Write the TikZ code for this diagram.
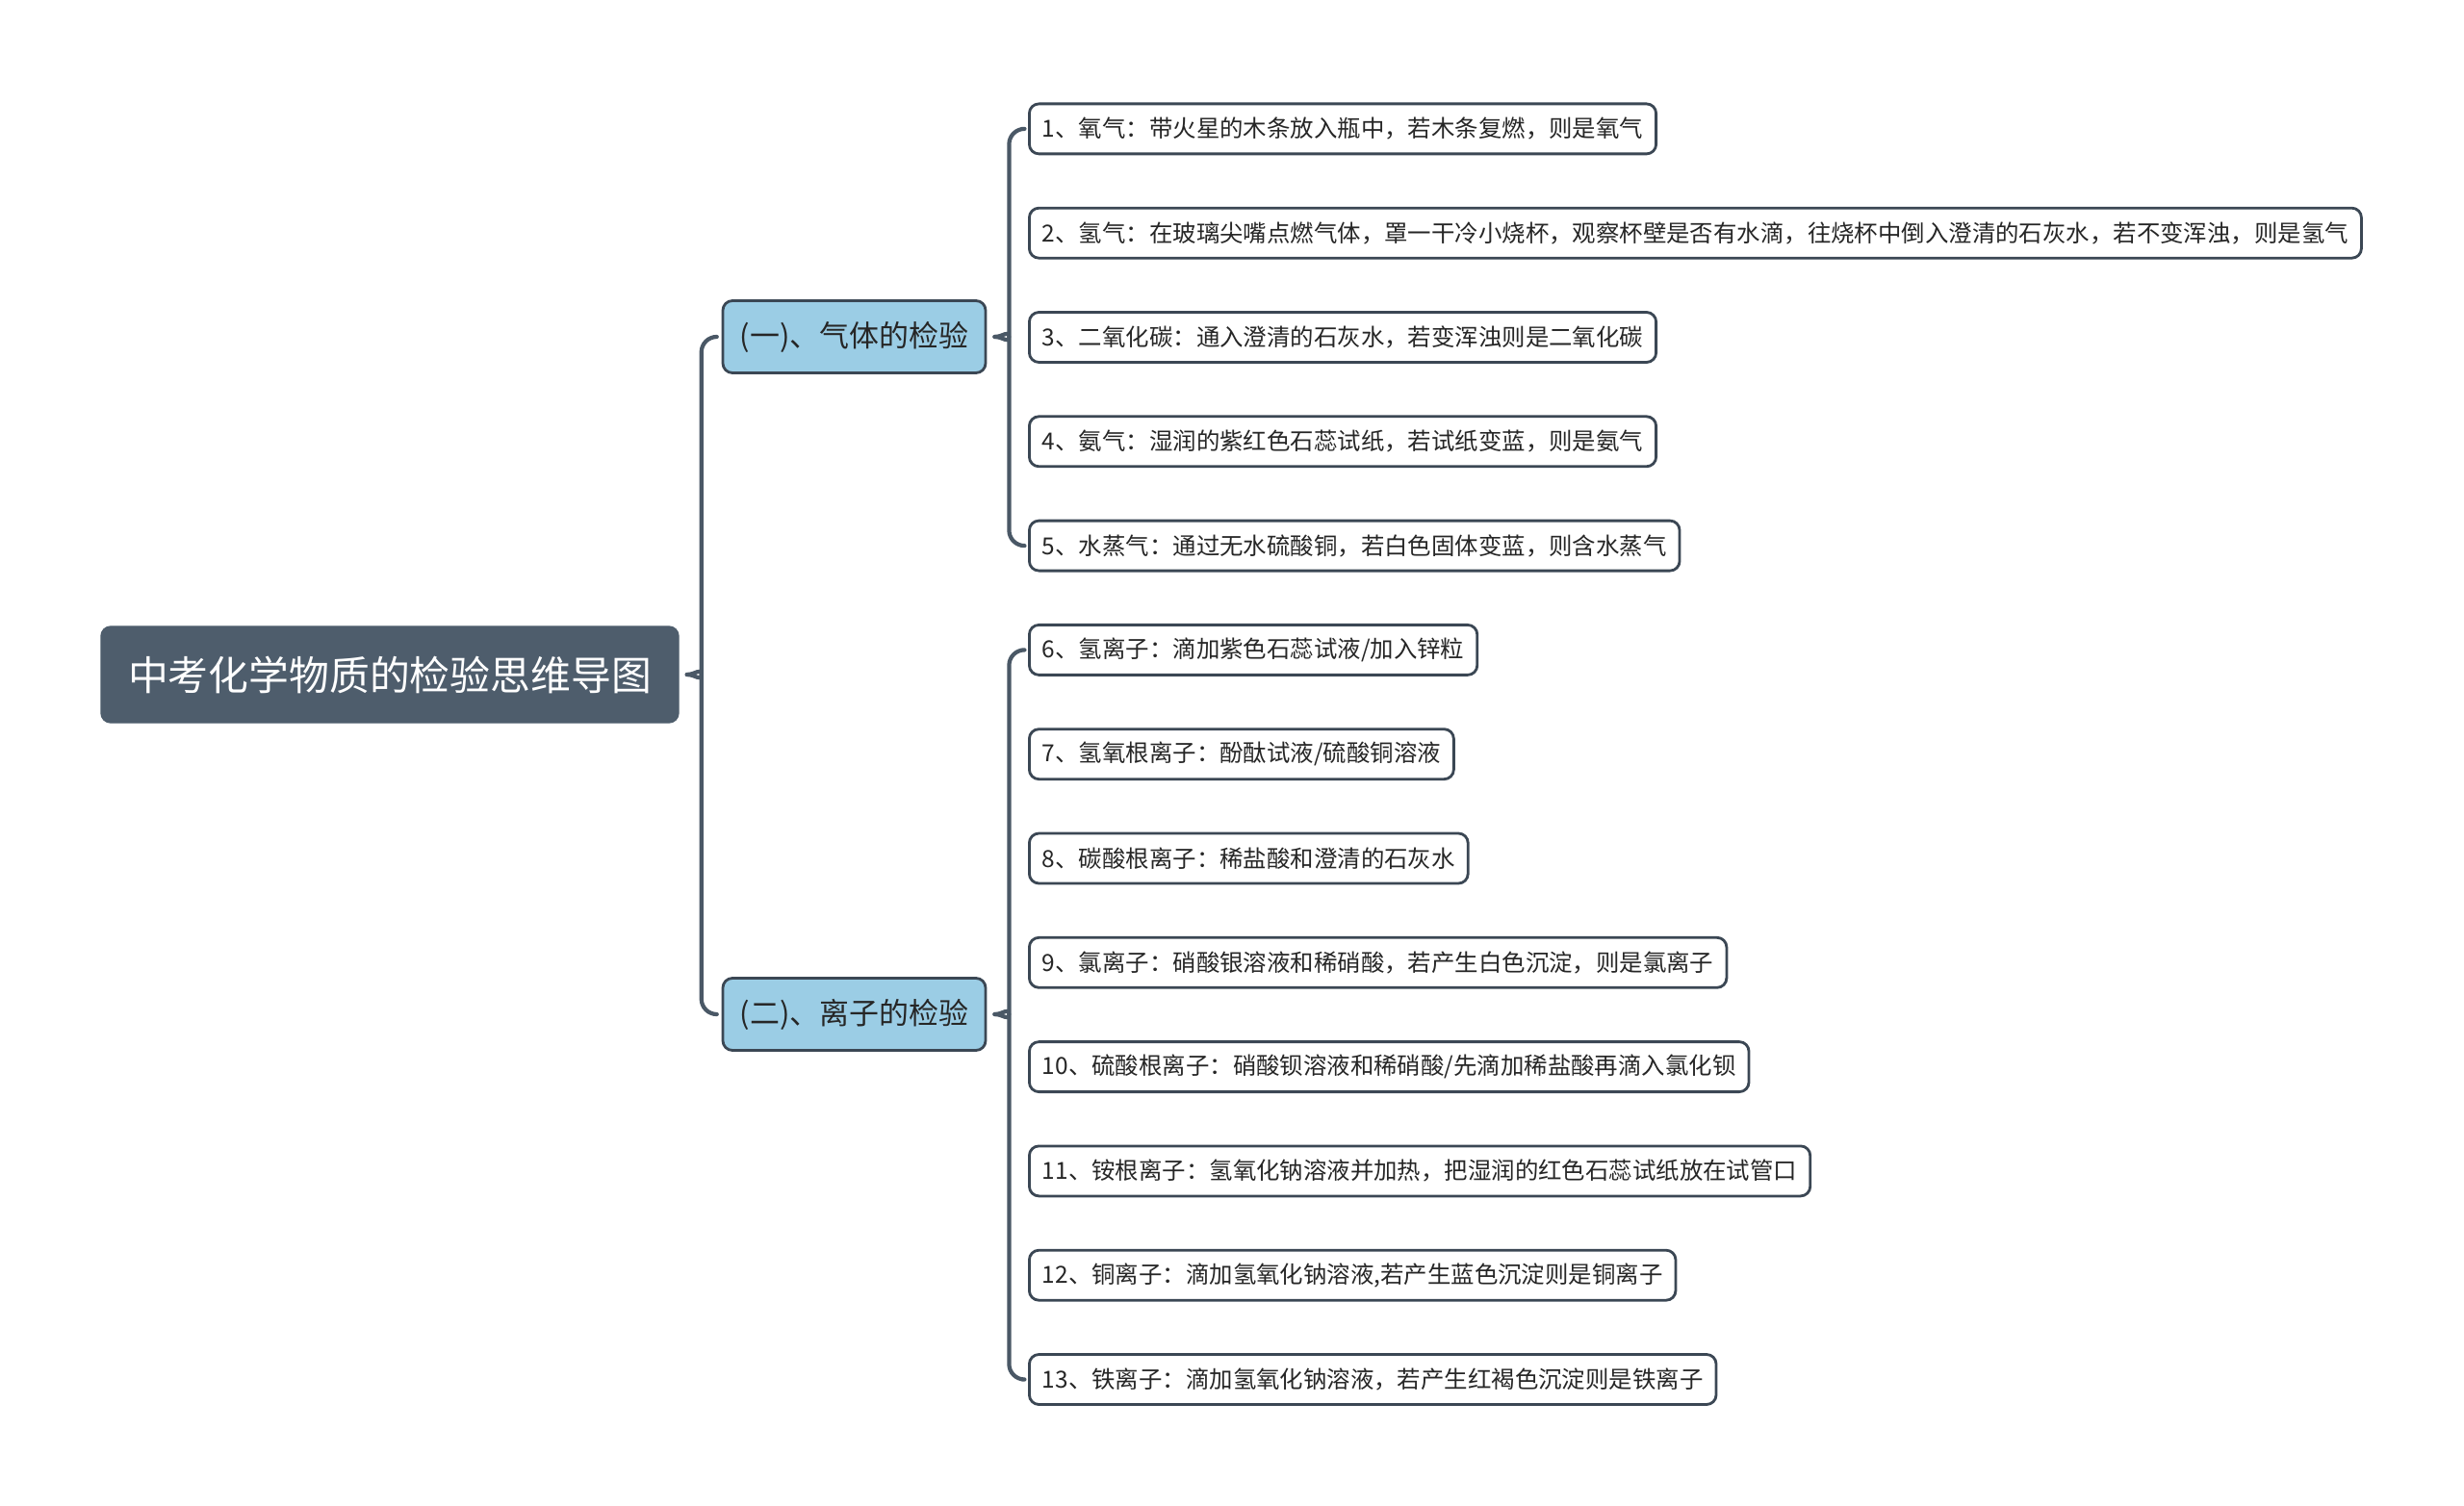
\documentclass[tikz,border=0pt]{standalone}
\usepackage{fontspec}
\setmainfont{Noto Sans CJK SC}
\usepackage{tikz}
\usepackage{xcolor}
\usetikzlibrary{arrows.meta,calc,positioning}
\definecolor{mindslate}{HTML}{4E5D6C}
\definecolor{mindline}{HTML}{4A5866}
\definecolor{mindblue}{HTML}{9BCDE5}
\definecolor{mindedge}{HTML}{3B4754}
\tikzset{
  every picture/.append style={line cap=round,line join=round},
  mind root/.style={rectangle,rounded corners=0.1cm,fill=mindslate,draw=mindslate,
    text=white,font=\fontsize{11.9pt}{14pt}\selectfont,minimum width=6.0cm,minimum height=1.0cm},
  mind branch/.style={rectangle,rounded corners=0.1cm,fill=mindblue,draw=mindedge,line width=0.8pt,
    text=black!85,font=\fontsize{8.8pt}{10pt}\selectfont,minimum width=2.73cm,minimum height=0.75cm},
  mind leaf/.style={rectangle,rounded corners=0.1cm,fill=white,draw=mindedge,line width=0.8pt,
    text=black!85,font=\fontsize{6.95pt}{8pt}\selectfont,inner xsep=0.135cm,minimum height=0.52cm,anchor=west},
  mind link/.style={mindline,line width=1.2pt,rounded corners=0.16cm,shorten >=0.06cm}
}
\begin{document}
\begin{tikzpicture}
  \useasboundingbox (0,0) rectangle (25.6,-15.65);

  \node[mind root] (root) at (4.05,-7.01) {中考化学物质的检验思维导图};

  \node[mind branch] (gas) at (8.875,-3.50) {(一)、气体的检验};
  \node[mind branch] (ion) at (8.875,-10.54) {(二)、离子的检验};

  \node[mind leaf] (l1) at (10.68,-1.339) {1、氧气：带火星的木条放入瓶中，若木条复燃，则是氧气};
  \node[mind leaf] (l2) at (10.68,-2.422) {2、氢气：在玻璃尖嘴点燃气体，罩一干冷小烧杯，观察杯壁是否有水滴，往烧杯中倒入澄清的石灰水，若不变浑浊，则是氢气};
  \node[mind leaf] (l3) at (10.68,-3.505) {3、二氧化碳：通入澄清的石灰水，若变浑浊则是二氧化碳};
  \node[mind leaf] (l4) at (10.68,-4.588) {4、氨气：湿润的紫红色石蕊试纸，若试纸变蓝，则是氨气};
  \node[mind leaf] (l5) at (10.68,-5.671) {5、水蒸气：通过无水硫酸铜，若白色固体变蓝，则含水蒸气};
  \node[mind leaf] (l6) at (10.68,-6.754) {6、氢离子：滴加紫色石蕊试液/加入锌粒};
  \node[mind leaf] (l7) at (10.68,-7.837) {7、氢氧根离子：酚酞试液/硫酸铜溶液};
  \node[mind leaf] (l8) at (10.68,-8.920) {8、碳酸根离子：稀盐酸和澄清的石灰水};
  \node[mind leaf] (l9) at (10.68,-10.003) {9、氯离子：硝酸银溶液和稀硝酸，若产生白色沉淀，则是氯离子};
  \node[mind leaf] (l10) at (10.68,-11.086) {10、硫酸根离子：硝酸钡溶液和稀硝酸/先滴加稀盐酸再滴入氯化钡};
  \node[mind leaf] (l11) at (10.68,-12.169) {11、铵根离子：氢氧化钠溶液并加热，把湿润的红色石蕊试纸放在试管口};
  \node[mind leaf] (l12) at (10.68,-13.252) {12、铜离子：滴加氢氧化钠溶液,若产生蓝色沉淀则是铜离子};
  \node[mind leaf] (l13) at (10.68,-14.335) {13、铁离子：滴加氢氧化钠溶液，若产生红褐色沉淀则是铁离子};

  % braces: parent / first child / last child
  \foreach \p/\a/\b in {root/gas/ion, gas/l1/l5, ion/l6/l13} {
    \coordinate (cusp) at ([xshift=0.08cm]\p.east);
    \draw[mind link] (cusp) to[out=0,in=-90] ++(0.15,0.16) |- (\a.west);
    \draw[mind link] (cusp) to[out=0,in=90] ++(0.15,-0.16) |- (\b.west);
  }
\end{tikzpicture}
\end{document}
